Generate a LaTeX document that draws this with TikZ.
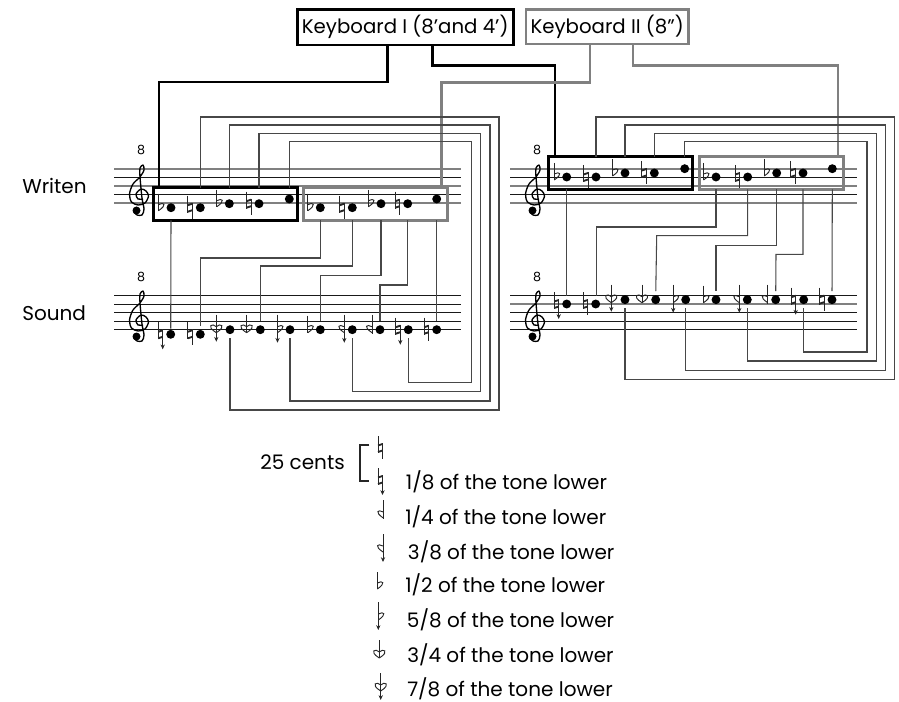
\documentclass[tikz,border=0pt]{standalone}
\usepackage{fontspec}
\setmainfont{Poppins}
\usetikzlibrary{arrows.meta}

\begin{document}
\begin{tikzpicture}[
  x=.75pt,y=-.75pt,
  notehead/.style={circle,fill=black,inner sep=0pt,outer sep=0pt,minimum size=6.7pt},
  lineA/.style={line width=.95pt,black!50},
  lineB/.style={line width=.7pt,black!90},
  wire/.style={line width=.8pt,black!72,shorten >=3pt},
  kbwireb/.style={line width=1.9pt,black},
  kbwireg/.style={line width=1.9pt,black!50},
  boxb/.style={draw=black,line width=2pt,inner sep=0pt,outer sep=0pt,minimum width=108pt,minimum height=24.5pt},
  boxg/.style={draw=black!50,line width=2pt,inner sep=0pt,outer sep=0pt,minimum width=108pt,minimum height=24.5pt},
  kbb/.style={draw=black,line width=2pt,inner sep=0pt,outer sep=0pt,font=\fontsize{14.8}{17}\selectfont},
  kbg/.style={draw=black!50,line width=2pt,inner sep=0pt,outer sep=0pt,font=\fontsize{14.8}{17}\selectfont},
  lab/.style={inner sep=0pt,anchor=west,font=\fontsize{15}{17}\selectfont},
  eight/.style={inner sep=0pt,font=\fontsize{9.5}{11}\selectfont},
  acc/.style={line width=.7pt,black!85},
  bar/.style={line width=1.4pt,black!85},
  drop/.style={line width=.7pt,black!85,-{Stealth[length=3.6pt,width=3.2pt]}},
  accnone/.pic={},
  accnat/.pic={
    \draw[acc] (-12.5,-12)--(-12.5,5);
    \draw[acc] (-8,-5)--(-8,11);
    \draw[bar] (-12.5,-2.5)--(-8,-4);
    \draw[bar] (-12.5,4)--(-8,2.5);
  },
  accnatdown/.pic={
    \draw[acc] (-12.5,-12)--(-12.5,5);
    \draw[drop] (-8,-5)--(-8,15);
    \draw[bar] (-12.5,-2.5)--(-8,-4);
    \draw[bar] (-12.5,4)--(-8,2.5);
  },
  accflat/.pic={
    \draw[acc] (-12.5,-14)--(-12.5,3);
    \draw[acc] (-12.5,-3) .. controls (-7,-6) and (-3.5,-3) .. (-12.5,3);
  },
  accflatdown/.pic={
    \draw[drop] (-12.5,-15)--(-12.5,13);
    \draw[acc] (-12.5,-3) .. controls (-7,-6) and (-3.5,-3) .. (-12.5,3);
  },
  accrev/.pic={
    \draw[acc] (-8,-15)--(-8,4);
    \draw[acc] (-8,-3) .. controls (-13.5,-6) and (-17,-3) .. (-8,3);
  },
  accrevdown/.pic={
    \draw[drop] (-8,-15)--(-8,13);
    \draw[acc] (-8,-3) .. controls (-13.5,-6) and (-17,-3) .. (-8,3);
  },
  accsesq/.pic={
    \draw[acc] (-13.7,-15)--(-13.7,3);
    \draw[acc] (-13.7,-3) .. controls (-17,-7) and (-25,-4) .. (-13.7,3);
    \draw[acc] (-13.7,-3) .. controls (-10.4,-7) and (-2.4,-4) .. (-13.7,3);
  },
  accsesqdown/.pic={
    \draw[drop] (-13.7,-15)--(-13.7,12);
    \draw[acc] (-13.7,-3) .. controls (-17,-7) and (-25,-4) .. (-13.7,3);
    \draw[acc] (-13.7,-3) .. controls (-10.4,-7) and (-2.4,-4) .. (-13.7,3);
  },
  trebleclef/.pic={
    \draw[line width=1pt,black,line join=round] plot[smooth] coordinates {
      (3,9) (-2,9) (-4,4) (1,-1) (6,1) (8.5,6) (5,13) (-2,15) (-8.5,12) (-10.5,4)
      (-7,-6) (0,-13) (4,-20) (3,-25) (0,-22) (0,-13) (2,8) (4,19) (2,25) (-3,25) (-6,22)};
    \fill (-3.5,20.5) circle (3pt);
  }
]
\useasboundingbox (0,0) rectangle (899,702);

% staves
\foreach \sx/\sy in {114/169,510/169}{
  \foreach \k/\st in {0/lineA,8.5/lineB,17/lineA,25.3/lineB,34/lineA}
    \draw[\st] (\sx,\sy+\k)--(\sx+347,\sy+\k);
}
\foreach \k/\st in {0/lineB,8.7/lineB,17/lineB,25.7/lineB,34.4/lineB}
  \draw[\st] (114,295.3+\k)--(461,295.3+\k);
\foreach \k/\st in {0/lineB,8.7/lineA,17/lineB,25.7/lineB,34.4/lineB}
  \draw[\st] (510,295.3+\k)--(857,295.3+\k);
\pic at (140,190) {trebleclef};
\pic at (140,316) {trebleclef};
\pic at (536,190) {trebleclef};
\pic at (536,316) {trebleclef};
\node[eight] (el1) at (141,150) {8};
\node[eight] (el2) at (141,277) {8};
\node[eight] (er1) at (537,150) {8};
\node[eight] (er2) at (537,277) {8};

% written notes
\foreach \name/\x/\y/\ac in {wl1/171/207.7/accflat,wl2/200.3/207.7/accnat,wl3/229.3/203.7/accflat,wl4/259/203.7/accnat,wl5/289.3/199/accnone,
  wl6/320.3/207.7/accflat,wl7/352.3/207.7/accnat,wl8/381/203.7/accflat,wl9/407.7/203.7/accnat,wl10/436.7/199/accnone,
  wr1/566.7/177/accflat,wr2/596/177/accnat,wr3/625/173/accflat,wr4/654.3/173/accnat,wr5/684.7/168.7/accnone,
  wr6/716/177/accflat,wr7/747.7/177/accnat,wr8/776.7/173/accflat,wr9/803/173/accnat,wr10/832.3/168.7/accnone}{
  \node[notehead] (\name) at (\x,\y) {};
  \pic at (\x,\y) {\ac};
}
% sounding notes
\foreach \name/\x/\y/\ac in {sl1/170.7/334.3/accnatdown,sl2/200.3/334.3/accnat,sl3/230/329.7/accsesqdown,sl4/260.3/329.7/accsesq,sl5/290/329.7/accflatdown,
  sl6/320.3/329.7/accflat,sl7/352.3/329.7/accrevdown,sl8/380/329.7/accrev,sl9/408.3/329.7/accnatdown,sl10/436.7/329.7/accnat,
  sr1/566.7/304/accnatdown,sr2/595.7/304/accnat,sr3/625/299.7/accsesqdown,sr4/655.7/299.7/accsesq,sr5/685.7/299.7/accflatdown,
  sr6/716/299.7/accflat,sr7/747.3/299.7/accrevdown,sr8/775.7/299.7/accrev,sr9/803.7/299.7/accnatdown,sr10/832/299.7/accnat}{
  \node[notehead] (\name) at (\x,\y) {};
  \pic at (\x,\y) {\ac};
}

% boxes round the written notes
\node[boxb] (wlb) at (225.2,204) {};
\node[boxg] (wlg) at (375.8,204) {};
\node[boxb] (wrb) at (620.5,173) {};
\node[boxg] (wrg) at (771.6,173) {};
\node[kbb,minimum width=162pt,minimum height=26.8pt] (kbi) at (405.2,27.2) {Keyboard I (8'and 4')};
\node[kbg,minimum width=122pt,minimum height=25.8pt] (kbii) at (607.2,26.7) {Keyboard II (8")};

% keyboards to boxes
\draw[kbwireb] (kbi.south -| 387.7,0) |- (159,82) -- (wlb.north -| 159,0);
\draw[kbwireb] (kbi.south -| 432.7,0) |- (555,65.7) -- (wrb.north -| 555,0);
\draw[kbwireg] (kbii.south -| 590,0) |- (441.7,82.3) -- (wlg.north -| 441.7,0);
\draw[kbwireg] (kbii.south -| 633,0) |- (838,65.7) -- (wrg.north -| 838,0);

% left block
\draw[wire,shorten >=1pt] (wlb.south -| wl1) -- (sl1);
\draw[wire] (wlb.north -| wl2) |- (499,117) -- (499,410) -| (sl3.south);
\draw[wire] (wlb.north -| wl3) |- (490,125) -- (490,401) -| (sl5.south);
\draw[wire] (wlb.north -| wl4) |- (480.7,133.3) -- (480.7,391.7) -| (sl7.south);
\draw[wire] (wlb.north -| wl5) |- (471.7,141.7) -- (471.7,382.7) -| (sl9.south);
\draw[wire] (wlg.south -| wl6) |- (200.7,258) -- (sl2.north -| 200.7,0);
\draw[wire] (wlg.south -| wl7) |- (260.3,266) -- (sl4.north);
\draw[wire] (wlg.south -| wl8) |- (320.3,275.7) -- (sl6.north);
\draw[wire] (wlg.south -| wl9) |- (380,285) -- (sl8.north);
\draw[wire] (wlg.south -| wl10) -- (sl10.north);

% right block
\draw[wire] (wrb.south -| wr1) -- (sr1.north);
\draw[wire] (wrb.north -| wr2) |- (894.7,117) -- (894.7,379.7) -| (sr3.south);
\draw[wire] (wrb.north -| wr3) |- (885.3,125) -- (885.3,370.3) -| (sr5.south);
\draw[wire] (wrb.north -| wr4) |- (876.3,133.3) -- (876.3,361) -| (sr7.south);
\draw[wire] (wrb.north -| wr5) |- (867,141.7) -- (867,352) -| (sr9.south);
\draw[wire] (wrg.south -| wr6) |- (596.7,227) -- (sr2.north -| 596.7,0);
\draw[wire] (wrg.south -| wr7) |- (656.7,235.7) -- (sr4.north);
\draw[wire] (wrg.south -| wr8) |- (716,245.3) -- (sr6.north);
\draw[wire] (wrg.south -| wr9) |- (776,254.3) -- (sr8.north);
\draw[wire] (wrg.south -| wr10) -- (sr10.north);

% row labels
\node[lab] (writen) at (22,186) {Writen};
\node[lab] (sound) at (22,313) {Sound};

% legend
\node[lab] (cents) at (260,462) {25 cents};
\coordinate (bracka) at (369.3,445);
\coordinate (brackb) at (369.3,481);
\draw[line width=.8pt,black!85] (bracka) -- (360,445) -- (360,481) -- (brackb);
\pic at (390.5,448) {accnat};
\pic at (390.5,480) {accnatdown};
\pic at (391.3,515) {accrev};
\pic at (391,549) {accrevdown};
\pic at (389.8,586) {accflat};
\pic at (390.8,617) {accflatdown};
\pic at (393,655) {accsesq};
\pic at (394.4,688) {accsesqdown};
\node[lab] (t18) at (405.7,482) {1/8 of the tone lower};
\node[lab] (t14) at (405,517) {1/4 of the tone lower};
\node[lab] (t38) at (407.7,552) {3/8 of the tone lower};
\node[lab] (t12) at (405,585) {1/2 of the tone lower};
\node[lab] (t58) at (406.7,620) {5/8 of the tone lower};
\node[lab] (t34) at (407,655) {3/4 of the tone lower};
\node[lab] (t78) at (407,689) {7/8 of the tone lower};
\end{tikzpicture}
\end{document}
